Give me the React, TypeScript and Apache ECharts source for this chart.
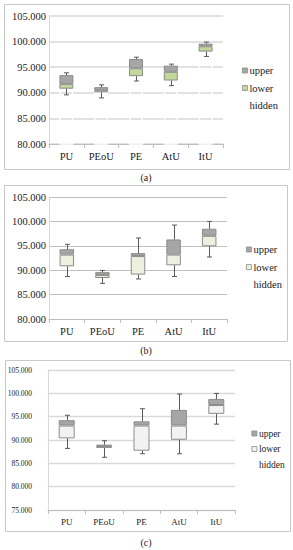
import React, { useEffect, useRef } from "react";
import * as echarts from "echarts";

const categories = ["PU", "PEoU", "PE", "AtU", "ItU"];
const tickDecimals = 3;

// Panel (a)
const aMin = [89.6, 89.0, 92.3, 91.4, 97.1];
const aQ1 = [90.8, 90.1, 93.25, 92.4, 98.05];
const aMed = [91.75, 90.5, 94.8, 94.1, 99.1];
const aQ3 = [93.45, 91.1, 96.6, 95.3, 99.6];
const aMax = [93.9, 91.55, 96.95, 95.6, 99.9];

// Panel (b)
const bMin = [88.7, 87.3, 88.2, 88.7, 92.7];
const bQ1 = [90.8, 88.4, 89.1, 91.0, 94.9];
const bMed = [93.2, 89.0, 92.9, 93.2, 97.05];
const bQ3 = [94.3, 89.6, 93.5, 96.3, 98.5];
const bMax = [95.3, 89.95, 96.6, 99.25, 100.0];

// Panel (c)
const cMin = [88.2, 86.3, 87.05, 87.05, 93.4];
const cQ1 = [90.35, 88.3, 87.7, 90.05, 95.6];
const cMed = [93.1, 88.7, 93.1, 93.1, 97.5];
const cQ3 = [94.25, 89.0, 94.0, 96.45, 98.8];
const cMax = [95.3, 89.85, 96.7, 99.85, 99.98];

const FONT = "'Liberation Serif', 'DejaVu Serif', serif";

type Panel = {
  key: string;
  min: number[]; q1: number[]; med: number[]; q3: number[]; max: number[];
  yMin: number;
  grid: { left: number; right: number; top: number; bottom: number };
  lowerColor: string;
  gridColor: string;
  gridWidth: number;
  hiddenBorder: number;
  barWidth: number;
  yFont: number; yMargin: number; xFont: number;
  legend: { left: number; top: number; gap: number; font: number };
};

const panels: Panel[] = [
  {
    key: "a", min: aMin, q1: aQ1, med: aMed, q3: aQ3, max: aMax, yMin: 80,
    grid: { left: 49, right: 70, top: 16, bottom: 406 },
    lowerColor: "#c3d69b", gridColor: "#d9d9d9", gridWidth: 1.6, hiddenBorder: 1.6,
    barWidth: 14, yFont: 10.5, yMargin: 3, xFont: 10.5,
    legend: { left: 237, top: 59.5, gap: 5.5, font: 10.5 },
  },
  {
    key: "b", min: bMin, q1: bQ1, med: bMed, q3: bQ3, max: bMax, yMin: 80,
    grid: { left: 49, right: 66, top: 197, bottom: 231 },
    lowerColor: "#ebf1de", gridColor: "#c0c0c0", gridWidth: 1.2, hiddenBorder: 0,
    barWidth: 14.5, yFont: 10.5, yMargin: 3, xFont: 10.5,
    legend: { left: 241, top: 238.5, gap: 5.6, font: 10.5 },
  },
  {
    key: "c", min: cMin, q1: cQ1, med: cMed, q3: cQ3, max: cMax, yMin: 75,
    grid: { left: 48, right: 58, top: 370, bottom: 40 },
    lowerColor: "#f2f2f2", gridColor: "#d9d9d9", gridWidth: 1.4, hiddenBorder: 0,
    barWidth: 16, yFont: 7.5, yMargin: 16, xFont: 9,
    legend: { left: 246.5, top: 422.5, gap: 3.5, font: 9.5 },
  },
];

const borders = [
  { x: 4.5, y: 4.5, w: 285, h: 165 },
  { x: 4.5, y: 185.5, w: 283, h: 156 },
  { x: 5.5, y: 360.5, w: 285, h: 171 },
];
const captions = [
  { text: "(a)", y: 177 },
  { text: "(b)", y: 350 },
  { text: "(c)", y: 542 },
];

export default function App() {
  const ref = useRef<HTMLDivElement>(null);
  useEffect(() => {
    if (!ref.current) return;
    const chart = echarts.init(ref.current, undefined, { renderer: "svg" });

    const grids: any[] = [];
    const xAxes: any[] = [];
    const yAxes: any[] = [];
    const series: any[] = [];
    const legends: any[] = [];

    panels.forEach((p, i) => {
      grids.push({ ...p.grid });
      xAxes.push({
        type: "category",
        gridIndex: i,
        data: categories,
        axisLine: { lineStyle: { color: "#bfbfbf", width: 1 } },
        axisTick: { show: true, length: 4, lineStyle: { color: "#bfbfbf" } },
        axisLabel: { color: "#222", fontFamily: FONT, fontSize: p.xFont, margin: 7 },
      });
      yAxes.push({
        type: "value",
        gridIndex: i,
        min: p.yMin,
        max: 105,
        interval: 5,
        axisLine: { show: true, lineStyle: { color: "#d9d9d9" } },
        axisTick: { show: false },
        splitLine: { lineStyle: { color: p.gridColor, width: p.gridWidth } },
        axisLabel: {
          color: "#222",
          fontFamily: FONT,
          fontSize: p.yFont,
          margin: p.yMargin,
          formatter: (v: number) => v.toFixed(tickDecimals),
        },
      });
      const nUpper = "upper_" + p.key;
      const nLower = "lower_" + p.key;
      const nHidden = "hidden_" + p.key;
      series.push({
        name: nHidden,
        type: "bar",
        xAxisIndex: i,
        yAxisIndex: i,
        stack: "s" + p.key,
        barWidth: p.barWidth,
        data: p.q1,
        itemStyle: {
          color: "rgba(255,255,255,0)",
          borderColor: p.hiddenBorder ? "#ffffff" : "rgba(255,255,255,0)",
          borderWidth: p.hiddenBorder,
        },
      });
      series.push({
        name: nLower,
        type: "bar",
        xAxisIndex: i,
        yAxisIndex: i,
        stack: "s" + p.key,
        barWidth: p.barWidth,
        data: p.med.map((m, k) => +(m - p.q1[k]).toFixed(4)),
        itemStyle: { color: p.lowerColor, borderColor: "#8c8c8c", borderWidth: 1 },
      });
      series.push({
        name: nUpper,
        type: "bar",
        xAxisIndex: i,
        yAxisIndex: i,
        stack: "s" + p.key,
        barWidth: p.barWidth,
        data: p.q3.map((q, k) => +(q - p.med[k]).toFixed(4)),
        itemStyle: { color: "#a6a6a6", borderColor: "#8c8c8c", borderWidth: 1 },
      });
      series.push({
        name: "whisker_" + p.key,
        type: "custom",
        xAxisIndex: i,
        yAxisIndex: i,
        encode: { x: 0, y: [1, 2, 3, 4] },
        data: categories.map((_, k) => [k, p.min[k], p.q1[k], p.q3[k], p.max[k]]),
        renderItem: (params: any, api: any) => {
          const x = api.value(0);
          const lo = api.coord([x, api.value(1)]);
          const b = api.coord([x, api.value(2)]);
          const t = api.coord([x, api.value(3)]);
          const hi = api.coord([x, api.value(4)]);
          const cx = Math.round(lo[0]) + 0.5;
          const half = 2.5;
          const style = { stroke: "#595959", lineWidth: 1 };
          return {
            type: "group",
            children: [
              { type: "line", shape: { x1: cx, y1: lo[1], x2: cx, y2: b[1] }, style },
              { type: "line", shape: { x1: cx, y1: t[1], x2: cx, y2: hi[1] }, style },
              { type: "line", shape: { x1: cx - half, y1: lo[1], x2: cx + half, y2: lo[1] }, style },
              { type: "line", shape: { x1: cx - half, y1: hi[1], x2: cx + half, y2: hi[1] }, style },
            ],
          };
        },
        z: 3,
      });
      legends.push({
        orient: "vertical",
        left: p.legend.left,
        top: p.legend.top,
        itemWidth: 5,
        itemHeight: 5,
        itemGap: p.legend.gap,
        icon: "rect",
        selectedMode: false,
        data: [nUpper, nLower, nHidden],
        formatter: (name: string) => name.split("_")[0],
        itemStyle: { borderWidth: 0.8 },
        textStyle: {
          color: "#222",
          fontFamily: FONT,
          fontSize: p.legend.font,
          lineHeight: 12,
          padding: [0, 0, 0, -3],
        },
      });
    });

    const graphics: any[] = [];
    borders.forEach((b) => {
      graphics.push({
        type: "rect",
        shape: { x: b.x, y: b.y, width: b.w, height: b.h },
        style: { fill: "none", stroke: "#c8c8c8", lineWidth: 1 },
        silent: true,
      });
    });
    captions.forEach((c) => {
      graphics.push({
        type: "text",
        x: 146,
        y: c.y,
        style: {
          text: c.text,
          fill: "#222",
          font: `10px ${FONT}`,
          align: "center",
          verticalAlign: "middle",
        },
      });
    });

    chart.setOption({
      animation: false,
      backgroundColor: "#ffffff",
      grid: grids,
      xAxis: xAxes,
      yAxis: yAxes,
      legend: legends,
      series,
      graphic: graphics,
    });
    return () => chart.dispose();
  }, []);

  return (
    <div
      ref={ref}
      style={{ position: "absolute", left: 0, top: 0, width: 293, height: 550 }}
    />
  );
}
